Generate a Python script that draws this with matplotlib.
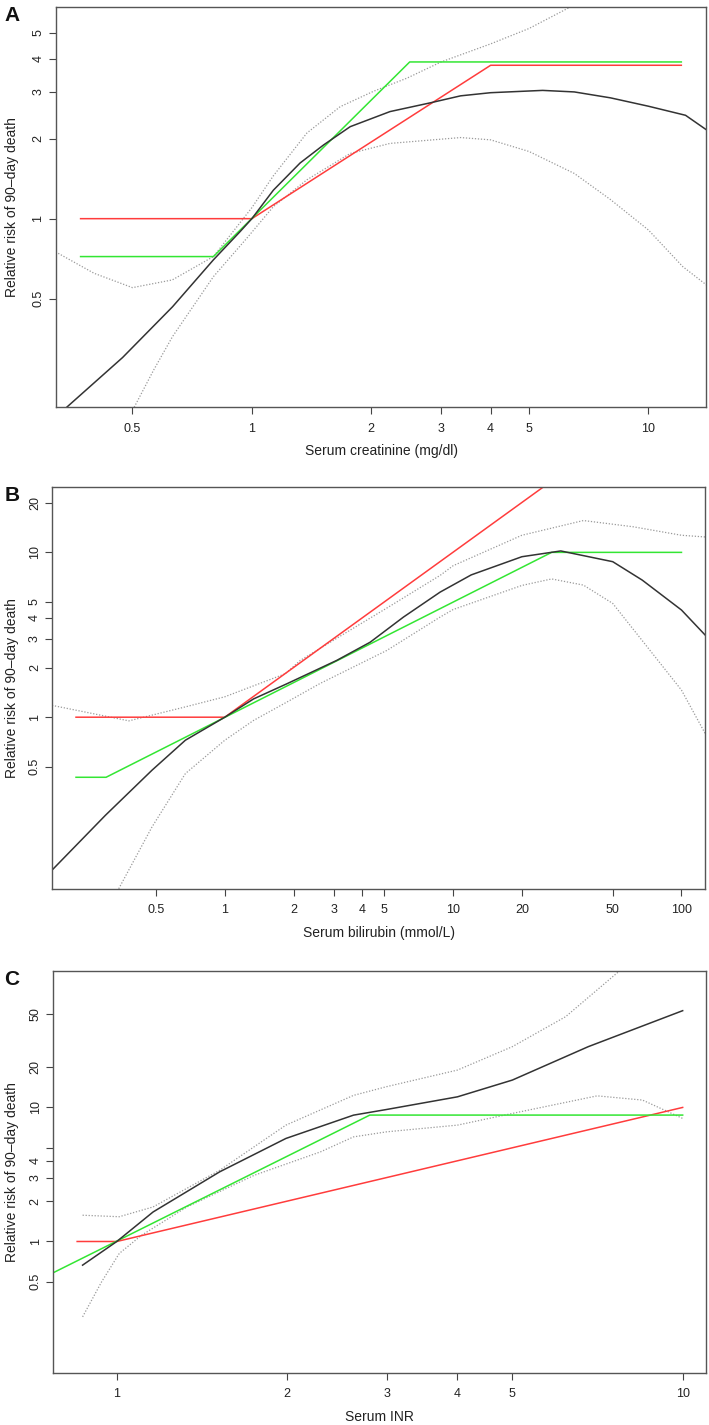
import matplotlib
matplotlib.use("Agg")
import matplotlib.pyplot as plt
from matplotlib.ticker import FixedLocator, FixedFormatter, NullLocator

plt.rcParams['font.family'] = ['Liberation Sans', 'DejaVu Sans']

# panel A - creatinine
a_red_x = [0.37, 1, 4, 12.1]
a_red_y = [1, 1, 3.78, 3.78]
a_grn_x = [0.37, 0.8, 2.5, 12.1]
a_grn_y = [0.72, 0.72, 3.89, 3.89]
a_fit_x = [0.34, 0.472, 0.631, 0.80, 0.934, 1, 1.133, 1.323, 1.516, 1.77, 2.23, 2.82, 3.36, 4.0, 5.41, 6.5, 8.02, 10, 12.4, 14.0]
a_fit_y = [0.194, 0.30, 0.466, 0.70, 0.894, 1, 1.28, 1.62, 1.894, 2.22, 2.53, 2.73, 2.90, 2.98, 3.04, 3.0, 2.85, 2.65, 2.45, 2.16]
a_up_x = [0.32, 0.4, 0.5, 0.63, 0.8, 1.0, 1.133, 1.376, 1.67, 2.03, 2.46, 3.0, 4.0, 5.0, 6.4]
a_up_y = [0.75, 0.623, 0.55, 0.588, 0.72, 1.1, 1.45, 2.1, 2.64, 3.02, 3.38, 3.89, 4.55, 5.2, 6.3]
a_lo_x = [0.505, 0.566, 0.631, 0.80, 0.971, 1.133, 1.376, 1.77, 2.23, 3.36, 4.0, 5.0, 6.5, 8.02, 10, 12.2, 14.0]
a_lo_y = [0.195, 0.27, 0.36, 0.605, 0.844, 1.11, 1.40, 1.76, 1.92, 2.02, 1.98, 1.79, 1.48, 1.18, 0.906, 0.66, 0.563]

# panel B - bilirubin
b_red_x = [0.223, 1, 25]
b_red_y = [1, 1, 25.1]
b_grn_x = [0.223, 0.302, 27, 100]
b_grn_y = [0.432, 0.432, 10, 10]
b_fit_x = [0.175, 0.30, 0.48, 0.672, 1, 1.335, 1.87, 3.09, 4.33, 6.06, 8.77, 12, 20, 29.6, 50, 67.3, 100, 127]
b_fit_y = [0.118, 0.254, 0.477, 0.725, 1, 1.29, 1.595, 2.21, 2.85, 4.05, 5.74, 7.3, 9.41, 10.2, 8.78, 6.79, 4.47, 3.15]
b_up_x = [0.175, 0.38, 0.672, 1, 1.84, 2.14, 3.66, 5, 8.77, 10, 20, 37.2, 61.4, 100, 127]
b_up_y = [1.18, 0.95, 1.155, 1.33, 1.835, 2.21, 3.47, 4.5, 7.25, 8.3, 12.7, 15.6, 14.3, 12.7, 12.4]
b_lo_x = [0.343, 0.48, 0.672, 1, 1.335, 1.84, 2.61, 5.12, 8.77, 10, 20, 27, 37.2, 50, 67, 100, 127]
b_lo_y = [0.091, 0.216, 0.455, 0.725, 0.955, 1.22, 1.6, 2.54, 4.05, 4.5, 6.3, 6.9, 6.33, 4.9, 2.94, 1.46, 0.796]

# panel C - INR
c_red_x = [0.851, 1, 10]
c_red_y = [1, 1, 10]
c_grn_x = [0.771, 2.8, 10]
c_grn_y = [0.583, 8.77, 8.77]
c_fit_x = [0.87, 1, 1.159, 1.52, 1.99, 2.62, 3, 4, 5, 6.81, 10]
c_fit_y = [0.666, 1, 1.66, 3.31, 5.87, 8.76, 9.66, 12.0, 16.0, 28.4, 52.7]
c_up_x = [0.87, 1.01, 1.159, 1.52, 1.99, 2.62, 3, 4, 5, 6.21, 7.74]
c_up_y = [1.57, 1.53, 1.81, 3.4, 7.38, 12.3, 14.3, 19.0, 28.4, 47.5, 104.7]
c_lo_x = [0.87, 0.94, 1.01, 1.105, 1.33, 1.75, 2.29, 2.62, 3, 4, 5, 7.06, 8.49, 10]
c_lo_y = [0.274, 0.5, 0.814, 1.11, 1.81, 3.12, 4.66, 6.03, 6.58, 7.38, 9.02, 12.2, 11.35, 8.28]

# axis setup per panel
a_xticks = [0.5, 1, 2, 3, 4, 5, 10]
a_yticks = [0.5, 1, 2, 3, 4, 5]
a_ylabels = ['0.5', '1', '2', '3', '4', '5']
b_xticks = [0.5, 1, 2, 3, 4, 5, 10, 20, 50, 100]
b_yticks = [0.5, 1, 2, 3, 4, 5, 10, 20]
b_ylabels = ['0.5', '1', '2', '3', '4', '5', '10', '20']
c_xticks = [1, 2, 3, 4, 5, 10]
c_yticks = [0.5, 1, 2, 3, 4, 5, 10, 20, 50]
c_ylabels = ['0.5', '1', '2', '3', '4', '', '10', '20', '50']

RED = '#ff3c3c'
GREEN = '#33e633'
DOT = '#9a9a9a'
BLK = '#333333'

fig = plt.figure(figsize=(7.09, 14.25), dpi=100)

panels = [
    dict(letter='A', rect=[0.0784, 0.7142, 0.918, 0.2811],
         xlim=(0.32, 14.0), ylim=(0.195, 6.28),
         xt=a_xticks, yt=a_yticks, yl=a_ylabels,
         xlabel='Serum creatinine (mg/dl)',
         red=(a_red_x, a_red_y), grn=(a_grn_x, a_grn_y), fit=(a_fit_x, a_fit_y),
         up=(a_up_x, a_up_y), lo=(a_lo_x, a_lo_y)),
    dict(letter='B', rect=[0.0733, 0.3763, 0.9213, 0.2821],
         xlim=(0.175, 127), ylim=(0.091, 25.0),
         xt=b_xticks, yt=b_yticks, yl=b_ylabels,
         xlabel='Serum bilirubin (mmol/L)',
         red=(b_red_x, b_red_y), grn=(b_grn_x, b_grn_y), fit=(b_fit_x, b_fit_y),
         up=(b_up_x, b_up_y), lo=(b_lo_x, b_lo_y)),
    dict(letter='C', rect=[0.0746, 0.0367, 0.9213, 0.2821],
         xlim=(0.771, 11.0), ylim=(0.105, 104.7),
         xt=c_xticks, yt=c_yticks, yl=c_ylabels,
         xlabel='Serum INR',
         red=(c_red_x, c_red_y), grn=(c_grn_x, c_grn_y), fit=(c_fit_x, c_fit_y),
         up=(c_up_x, c_up_y), lo=(c_lo_x, c_lo_y)),
]

for p in panels:
    ax = fig.add_axes(p['rect'])
    ax.set_xscale('log')
    ax.set_yscale('log')

    ax.plot(*p['up'], color=DOT, lw=0.9, ls=(0, (1, 1.4)))
    ax.plot(*p['lo'], color=DOT, lw=0.9, ls=(0, (1, 1.4)))
    ax.plot(*p['red'], color=RED, lw=1.1)
    ax.plot(*p['grn'], color=GREEN, lw=1.1)
    ax.plot(*p['fit'], color=BLK, lw=1.1)

    ax.set_xlim(*p['xlim'])
    ax.set_ylim(*p['ylim'])

    ax.xaxis.set_major_locator(FixedLocator(p['xt']))
    ax.xaxis.set_major_formatter(FixedFormatter([('%g' % v) for v in p['xt']]))
    ax.xaxis.set_minor_locator(NullLocator())
    ax.yaxis.set_major_locator(FixedLocator(p['yt']))
    ax.yaxis.set_major_formatter(FixedFormatter(p['yl']))
    ax.yaxis.set_minor_locator(NullLocator())

    ax.tick_params(axis='both', length=5, width=0.8, color='#444444', labelsize=9, labelcolor='#222222')
    ax.tick_params(axis='x', pad=6)
    ax.tick_params(axis='y', pad=3, labelrotation=90)
    for t in ax.get_yticklabels():
        t.set_va('center')

    for s in ax.spines.values():
        s.set_color('#555555')
        s.set_linewidth(1.0)

    ax.set_xlabel(p['xlabel'], fontsize=10, color='#222222')
    ax.xaxis.label.set_va('center')
    h_px = p['rect'][3] * 1425
    w_px = p['rect'][2] * 709
    ax.xaxis.set_label_coords(0.5, -44.0 / h_px)
    ax.set_ylabel('Relative risk of 90\u2013day death', fontsize=10, color='#222222')
    ax.yaxis.label.set_va('center')
    ax.yaxis.set_label_coords(-(p['rect'][0] * 709 - 12) / w_px, 0.5)

    top_px = (1 - p['rect'][1] - p['rect'][3]) * 1425
    fig.text(12 / 709, 1 - (top_px + 9) / 1425, p['letter'], fontsize=15,
             fontweight='bold', ha='center', va='center', color='#111111')

fig.savefig('out.png', dpi=100)
